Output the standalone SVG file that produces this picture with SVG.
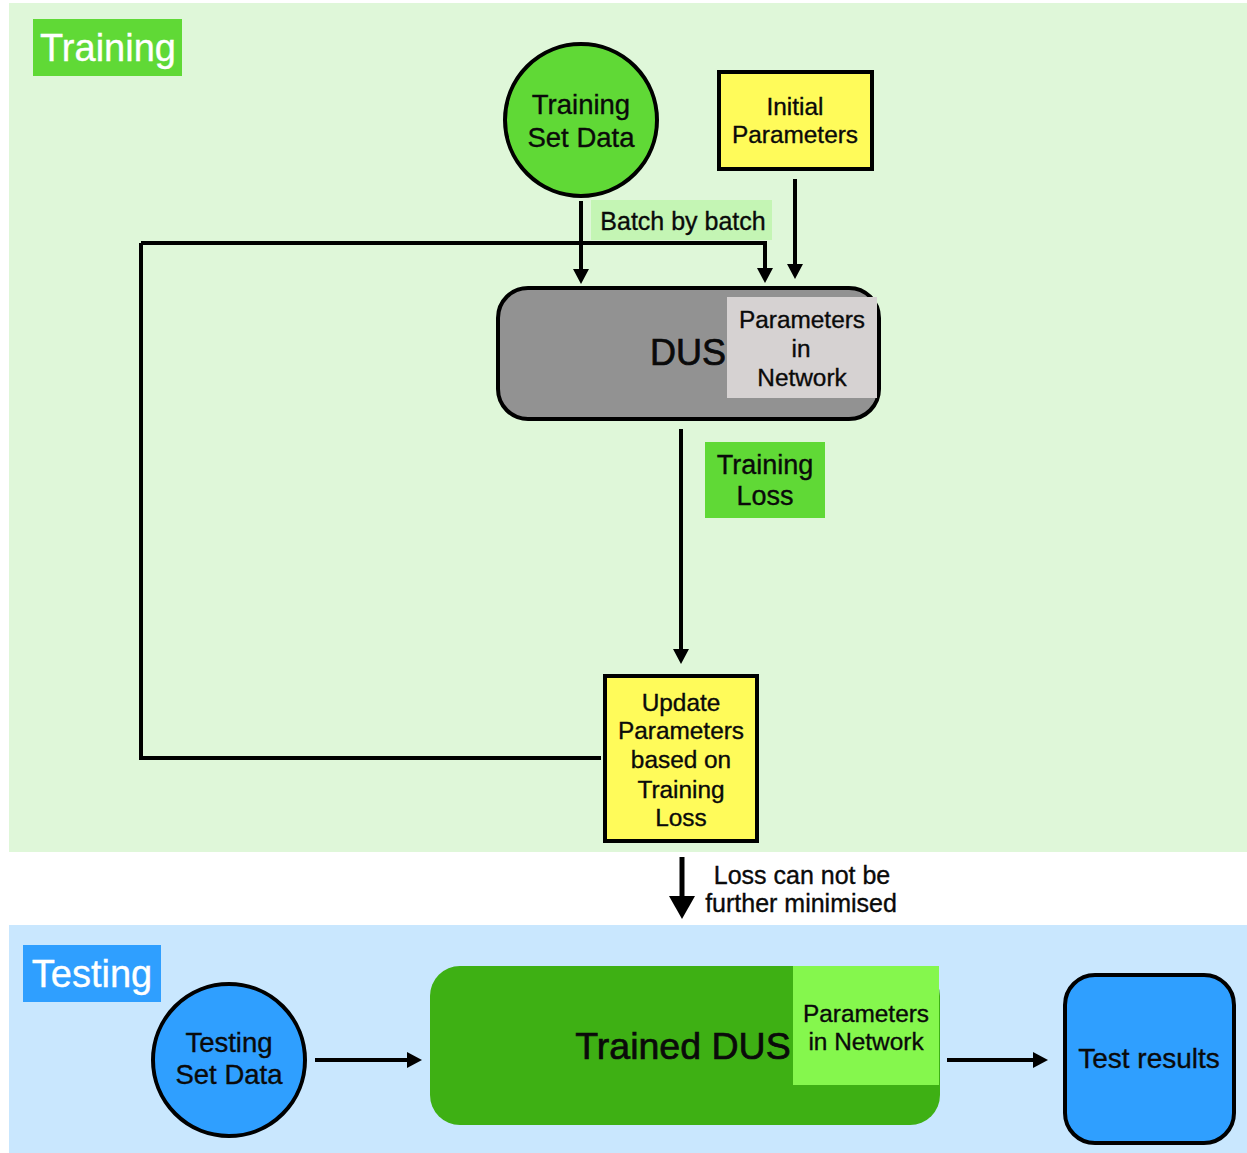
<svg xmlns="http://www.w3.org/2000/svg" width="1247" height="1153" viewBox="0 0 1247 1153">
<defs>
<marker id="a" markerUnits="userSpaceOnUse" markerWidth="16" markerHeight="16" refX="4" refY="8" orient="auto"><path d="M0 0L15 8L0 16Z" fill="#000"/></marker>
<marker id="b" markerUnits="userSpaceOnUse" markerWidth="24" markerHeight="26" refX="4" refY="13" orient="auto"><path d="M0 0L23 13L0 26Z" fill="#000"/></marker>
</defs>
<style>
text{font-family:"Liberation Sans",Arial,sans-serif;text-anchor:middle;fill:#0a0a0a;stroke:#0a0a0a;stroke-width:.35px;font-size:24.4px}
.l{fill:none;stroke:#000;stroke-width:4}
.n{stroke:#000;stroke-width:4}
text.w{fill:#fff;stroke:#fff;font-size:38px}
.m{font-size:27.5px}
.b{font-size:37.5px;stroke-width:.7px}
</style>
<rect width="1247" height="1153" fill="#fff"/>
<rect x="9" y="3" width="1238" height="849" fill="#dff7d9"/>
<rect x="9" y="925" width="1238" height="228" fill="#c9e7fe"/>
<g id="label-training"><rect x="33" y="19" width="149" height="57" fill="#60d936"/><text class="w" x="108" y="61">Training</text></g>
<g id="label-testing"><rect x="23" y="945" width="138" height="57" fill="#2f9fff"/><text class="w" x="92" y="987">Testing</text></g>
<g id="connectors">
<path class="l" d="M581 201V273" marker-end="url(#a)"/>
<path class="l" d="M141 243H765V272" marker-end="url(#a)"/>
<path class="l" d="M795 179V268" marker-end="url(#a)"/>
<path class="l" d="M681 429V653" marker-end="url(#a)"/>
<path class="l" d="M601 758H141V243"/>
<path class="l" style="stroke-width:5" d="M682 857V900" marker-end="url(#b)"/>
<path class="l" d="M315 1060H411" marker-end="url(#a)"/>
<path class="l" d="M947 1060H1037" marker-end="url(#a)"/>
</g>
<g id="batch-label"><rect x="591" y="200" width="181" height="40" fill="#c4f5b4"/><text x="683" y="230" style="font-size:25px">Batch by batch</text></g>
<g id="training-set"><circle class="n" cx="581" cy="120" r="76" fill="#60d936"/><text class="m" x="581" y="114">Training</text><text class="m" x="581" y="147">Set Data</text></g>
<g id="initial-parameters"><rect class="n" x="719" y="72" width="153" height="97" fill="#fffb5a"/><text x="795" y="115">Initial</text><text x="795" y="143">Parameters</text></g>
<g id="dus"><rect class="n" x="498" y="288" width="381" height="131" rx="30" fill="#929292"/><rect x="727" y="297" width="150" height="101" fill="#d6d2d2"/><text class="b" x="688" y="365" style="font-size:36px">DUS</text><text x="802" y="328">Parameters</text><text x="801" y="357">in</text><text x="802" y="386">Network</text></g>
<g id="training-loss"><rect x="705" y="442" width="120" height="76" fill="#60d936"/><text x="765" y="474" style="font-size:27px">Training</text><text x="765" y="505" style="font-size:27px">Loss</text></g>
<g id="update"><rect class="n" x="605" y="676" width="152" height="165" fill="#fffb5a"/><text x="681" y="711">Update</text><text x="681" y="739">Parameters</text><text x="681" y="768">based on</text><text x="681" y="798">Training</text><text x="681" y="826">Loss</text></g>
<g id="stop-label"><text x="802" y="884" style="font-size:25px">Loss can not be</text><text x="801" y="912" style="font-size:25px">further minimised</text></g>
<g id="testing-set"><circle class="n" cx="229" cy="1060" r="76" fill="#2f9fff"/><text class="m" x="229" y="1052">Testing</text><text class="m" x="229" y="1084">Set Data</text></g>
<g id="trained-dus"><rect x="430" y="966" width="510" height="159" rx="30" fill="#3eb014"/><rect x="793" y="966" width="146" height="119" fill="#85f74d"/><text class="b" x="683" y="1059">Trained DUS</text><text x="866" y="1022">Parameters</text><text x="866" y="1050">in Network</text></g>
<g id="test-results"><rect class="n" x="1065" y="975" width="169" height="168" rx="30" fill="#2f9fff"/><text x="1149" y="1068" style="font-size:28px">Test results</text></g>
</svg>
